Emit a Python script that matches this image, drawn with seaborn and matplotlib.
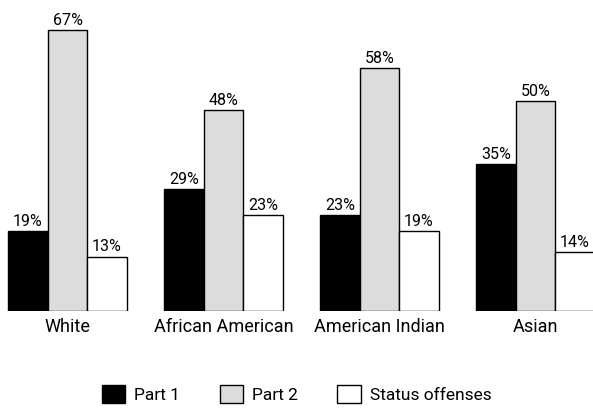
import matplotlib
matplotlib.use("Agg")
import matplotlib.pyplot as plt
import seaborn as sns
import pandas as pd

groups = ["White", "African American", "American Indian", "Asian"]
series = ["Part 1", "Part 2", "Status offenses"]
part1 = [19, 29, 23, 35]
part2 = [67, 48, 58, 50]
status = [13, 23, 19, 14]
colors = ["#000000", "#dcdcdc", "#ffffff"]

rows = []
for name, vals in zip(series, [part1, part2, status]):
    for g, v in zip(groups, vals):
        rows.append({"group": g, "series": name, "value": v})
df = pd.DataFrame(rows)

sns.set_style("white")
plt.rcParams["font.family"] = ["Roboto", "DejaVu Sans"]
plt.rcParams["text.color"] = "black"
plt.rcParams["xtick.color"] = "black"

fig = plt.figure(figsize=(5.93, 4.11), dpi=100)
ax = fig.add_axes([0, 100 / 411, 1, 70 * 4.19 / 411])

sns.barplot(data=df, x="group", y="value", hue="series", palette=colors,
            hue_order=series, order=groups, width=0.76, edgecolor="black",
            linewidth=1.0, errorbar=None, ax=ax, legend=True)

for cont in ax.containers:
    ax.bar_label(cont, labels=[f"{int(v)}%" for v in cont.datavalues],
                 padding=1.5, fontsize=11.5, color="black")

ax.set_xlim(-67.5 / 156, (593 - 67.5) / 156)
ax.set_ylim(0, 70)
ax.set_xlabel("")
ax.set_ylabel("")
ax.set_yticks([])
ax.tick_params(axis="x", length=0, labelsize=13, pad=5)
sns.despine(ax=ax, left=True, bottom=True)

handles, labels = ax.get_legend_handles_labels()
ax.get_legend().remove()
fig.legend(handles, labels, loc="center", bbox_to_anchor=(0.5, 1 - 394 / 411),
           ncol=3, frameon=False, fontsize=12.5, handlelength=1.35,
           handleheight=1.3, columnspacing=2.3, handletextpad=0.5)

fig.savefig("out.png", dpi=100)
